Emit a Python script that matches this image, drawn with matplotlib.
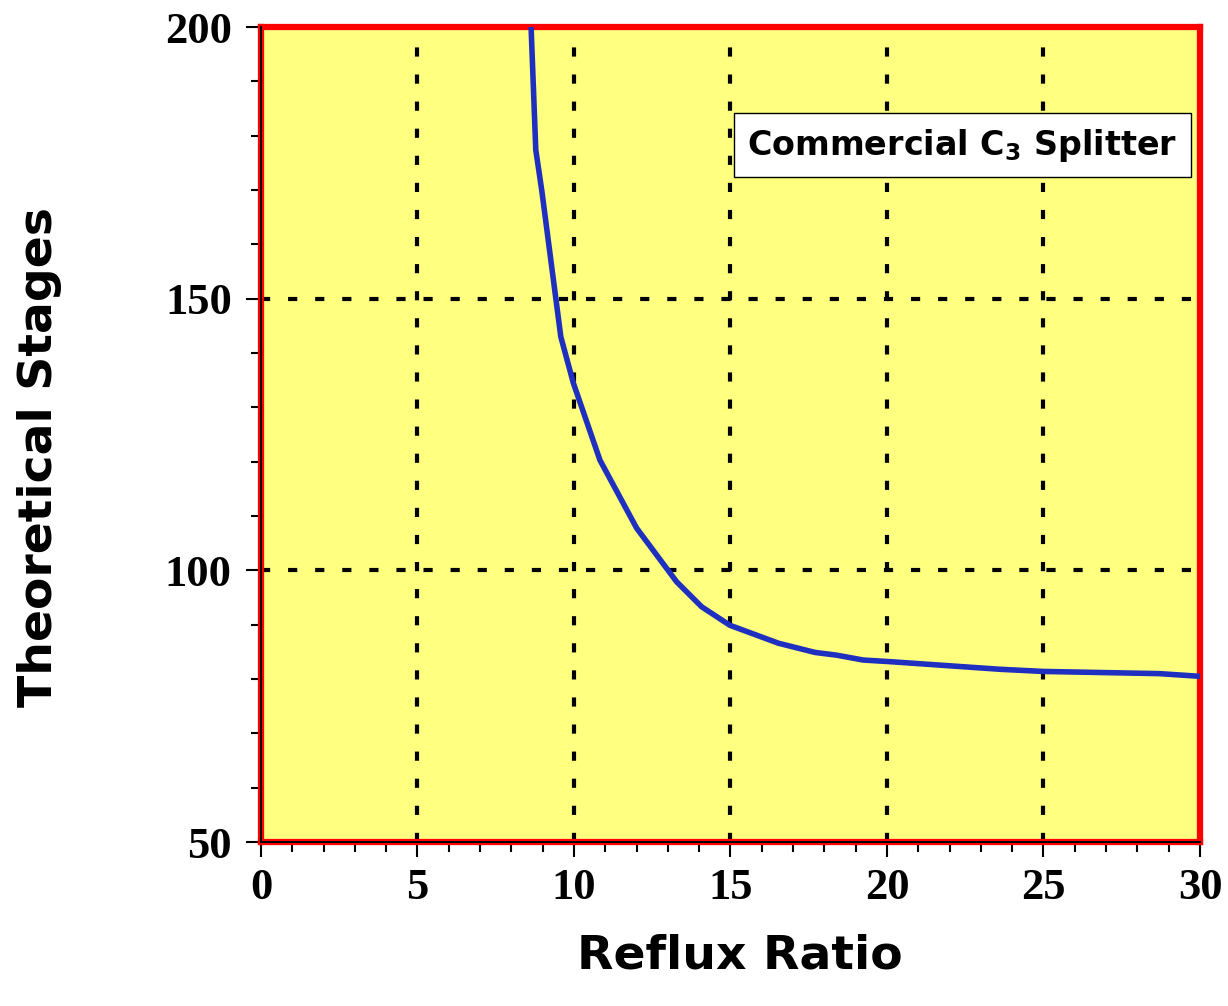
import numpy as np
import matplotlib.pyplot as plt
from matplotlib.ticker import MultipleLocator

# ======================
# Datos
# ======================
reflujo = [8.63, 8.78, 8.97, 9.58, 9.98, 10.83, 12.0, 13.28, 14.08, 14.98,
           16.53, 17.7, 18.39, 19.24, 20.1, 23.6, 25.0, 28.7, 30.0]
etapas = [200, 177.4, 170, 143, 134.5, 120.3, 107.8, 97.9, 93.3, 89.9,
          86.6, 84.9, 84.4, 83.5, 83.2, 81.8, 81.4, 81.0, 80.5]

x_ticks = [0, 5, 10, 15, 20, 25, 30]
y_ticks = [50, 100, 150, 200]
etiqueta = r"Commercial C$_\mathbf{3}$ Splitter"

# ======================
# Figura
# ======================
fig = plt.figure(figsize=(12.28, 10.06), dpi=100)
ax = fig.add_axes([0.2125, 0.163, 0.7647, 0.810])
ax.set_facecolor("#FFFF80")

ax.plot(reflujo, etapas, color="#1F2FBF", linewidth=4, zorder=3)

ax.set_xlim(0, 30)
ax.set_ylim(50, 200)
ax.set_xticks(x_ticks)
ax.set_yticks(y_ticks)
ax.xaxis.set_minor_locator(MultipleLocator(1))
ax.yaxis.set_minor_locator(MultipleLocator(10))

# grilla punteada solo en lineas interiores
for gx in x_ticks[1:-1]:
    ax.axvline(gx, color="black", linewidth=3, linestyle=(0, (2.2, 4.3)), zorder=2)
for gy in y_ticks[1:-1]:
    ax.axhline(gy, color="black", linewidth=3, linestyle=(0, (2.2, 4.3)), zorder=2)

for s in ax.spines.values():
    s.set_color("red")
    s.set_linewidth(4.5)
# eje negro sobre el borde rojo (izquierda y abajo)
ax.axvline(0, color="black", linewidth=1.4, zorder=5, clip_on=False)
ax.axhline(50, color="black", linewidth=1.4, zorder=5, clip_on=False)

ax.tick_params(axis="both", which="major", direction="out", length=11, width=1.5,
               color="black", labelsize=32)
ax.tick_params(axis="both", which="minor", direction="out", length=7, width=1.5,
               color="black")
ax.tick_params(axis="x", which="major", pad=8)
ax.tick_params(axis="y", which="major", pad=10)
for lbl in ax.get_xticklabels() + ax.get_yticklabels():
    lbl.set_fontfamily("Liberation Serif")
    lbl.set_fontweight("bold")

ax.set_xlabel("Reflux Ratio", fontsize=34, fontweight="bold", family="DejaVu Sans")
ax.set_ylabel("Theoretical Stages", fontsize=34, fontweight="bold", family="DejaVu Sans")
ax.xaxis.set_label_coords(0.51, -0.112)
ax.yaxis.set_label_coords(-0.212, 0.472)

ax.text(22.4, 178.3, etiqueta, fontsize=24, fontweight="bold", family="DejaVu Sans",
        ha="center", va="center", zorder=6,
        bbox=dict(boxstyle="square,pad=0.4", facecolor="white", edgecolor="black", linewidth=1))

plt.savefig("out.png", dpi=100)
